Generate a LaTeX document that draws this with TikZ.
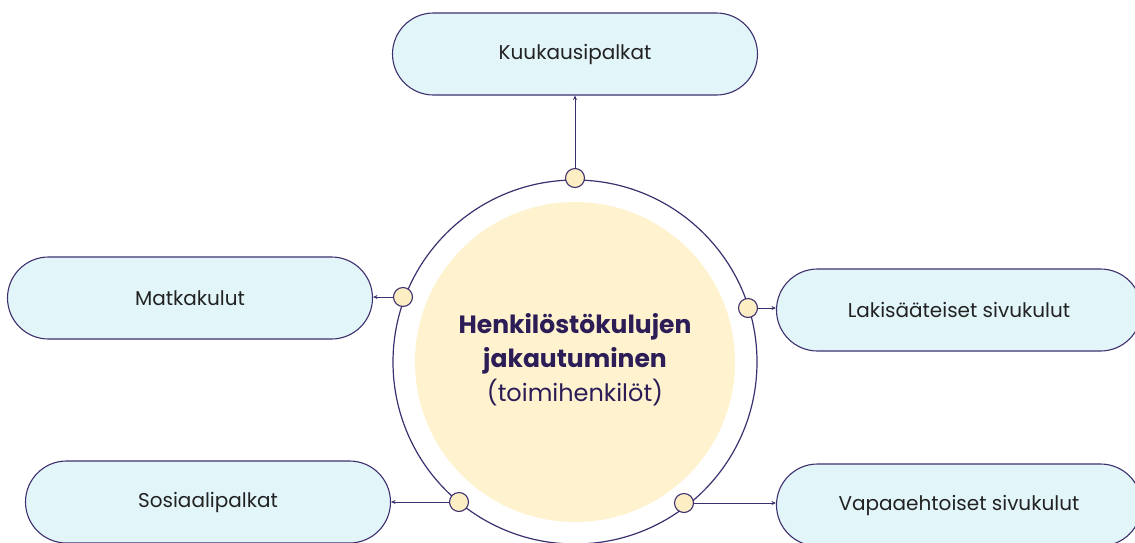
\documentclass[tikz,border=0pt]{standalone}
\usepackage{fontspec}
\setmainfont{Poppins}
\usetikzlibrary{arrows.meta}
\definecolor{ink}{HTML}{3E2F6E}
\definecolor{titleink}{HTML}{2C1D57}
\definecolor{boxfill}{HTML}{E2F6FA}
\definecolor{corefill}{HTML}{FEF2CF}
\definecolor{dotfill}{HTML}{FDEEC4}
\definecolor{textgray}{HTML}{222222}
\tikzset{
  costbox/.style={draw=ink, line width=1.1pt, fill=boxfill, rounded corners=41pt,
    minimum width=365pt, minimum height=82pt, inner sep=0pt,
    font=\fontsize{20}{24}\selectfont, text=textgray},
  dot/.style={circle, draw=ink, line width=1.1pt, fill=dotfill, minimum size=19pt, inner sep=0pt},
  link/.style={draw=ink, line width=0.9pt, -{Stealth[length=4.5pt,width=4pt]}},
}
\begin{document}
\begin{tikzpicture}[x=1pt,y=-1pt]
\useasboundingbox (0,0) rectangle (1135,542);
% central ring and core
\node[circle, fill=corefill, minimum size=320pt, inner sep=0pt] (core) at (575,362) {};
\node[circle, draw=ink, line width=1.2pt, minimum size=364pt, inner sep=0pt] (ring) at (575,362) {};
\node[align=center, text=titleink, font=\fontsize{25}{34}\selectfont] (title) at (575,360)
  {\bfseries Henkilöstökulujen\\
   \bfseries jakautuminen\\
   \fontsize{24}{34}\selectfont (toimihenkilöt)};
% cost categories
\node[costbox] (kuu) at (575,54) {Kuukausipalkat};
\node[costbox] (mat) at (190,298) {Matkakulut};
\node[costbox] (lak) at (959,310) {Lakisääteiset sivukulut};
\node[costbox] (sos) at (208,502) {Sosiaalipalkat};
\node[costbox] (vap) at (959,505) {Vapaaehtoiset sivukulut};
% connection points on the ring
\node[dot] (dk) at (575,178) {};
\node[dot] (dm) at (403,297) {};
\node[dot] (dl) at (748,308) {};
\node[dot] (ds) at (459,502) {};
\node[dot] (dv) at (684,503) {};
% connectors
\draw[link] (dk.north) -- (kuu.south);
\draw[link] (dm.west) -- (dm.west -| mat.east);
\draw[link] (dl.east) -- (dl.east -| lak.west);
\draw[link] (ds.west) -- (ds.west -| sos.east);
\draw[link] (dv.east) -- (dv.east -| vap.west);
\end{tikzpicture}
\end{document}
